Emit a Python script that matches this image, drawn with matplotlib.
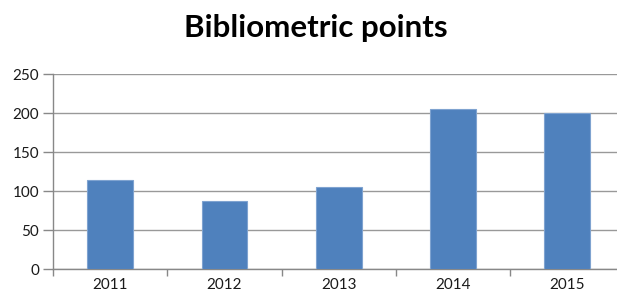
import numpy as np
import matplotlib.pyplot as plt

years = ["2011", "2012", "2013", "2014", "2015"]
points = [115, 87, 106, 206, 201]

plt.rcParams['font.family'] = ['Lato', 'DejaVu Sans']

fig = plt.figure(figsize=(6.17, 2.96), dpi=100)
ax = fig.add_axes([53 / 617, 0.09, 571.5 / 617, 0.659])

x = np.arange(len(years))
ax.bar(x, points, width=0.4, color="#4F81BD", edgecolor="#7FA3D0", linewidth=0.8, zorder=3)

ax.set_xlim(-0.5, len(years) - 0.5)
ax.set_ylim(0, 250)
ax.set_yticks(np.arange(0, 251, 50))
ax.yaxis.grid(True, color="#999999", linewidth=1.0, zorder=0)

# category boundaries as ticks, labels at centers
ax.set_xticks(np.arange(-0.5, len(years), 1.0))
ax.set_xticklabels([])
ax.set_xticks(x, minor=True)
ax.set_xticklabels(years, minor=True)
ax.tick_params(axis="x", which="major", length=5, color="#888888", width=1)
ax.tick_params(axis="x", which="minor", length=0, pad=6, labelsize=11, labelcolor="#1a1a1a")
ax.tick_params(axis="y", length=7, color="#888888", width=1, labelsize=11, labelcolor="#1a1a1a", pad=3)

for s in ["top", "right"]:
    ax.spines[s].set_visible(False)
for s in ["left", "bottom"]:
    ax.spines[s].set_color("#888888")
    ax.spines[s].set_linewidth(1)

fig.text(316 / 617, 1 - 28 / 296, "Bibliometric points", ha="center", va="center",
         fontsize=22.5, fontweight="bold", color="#000000")

fig.savefig("out.png", dpi=100)
